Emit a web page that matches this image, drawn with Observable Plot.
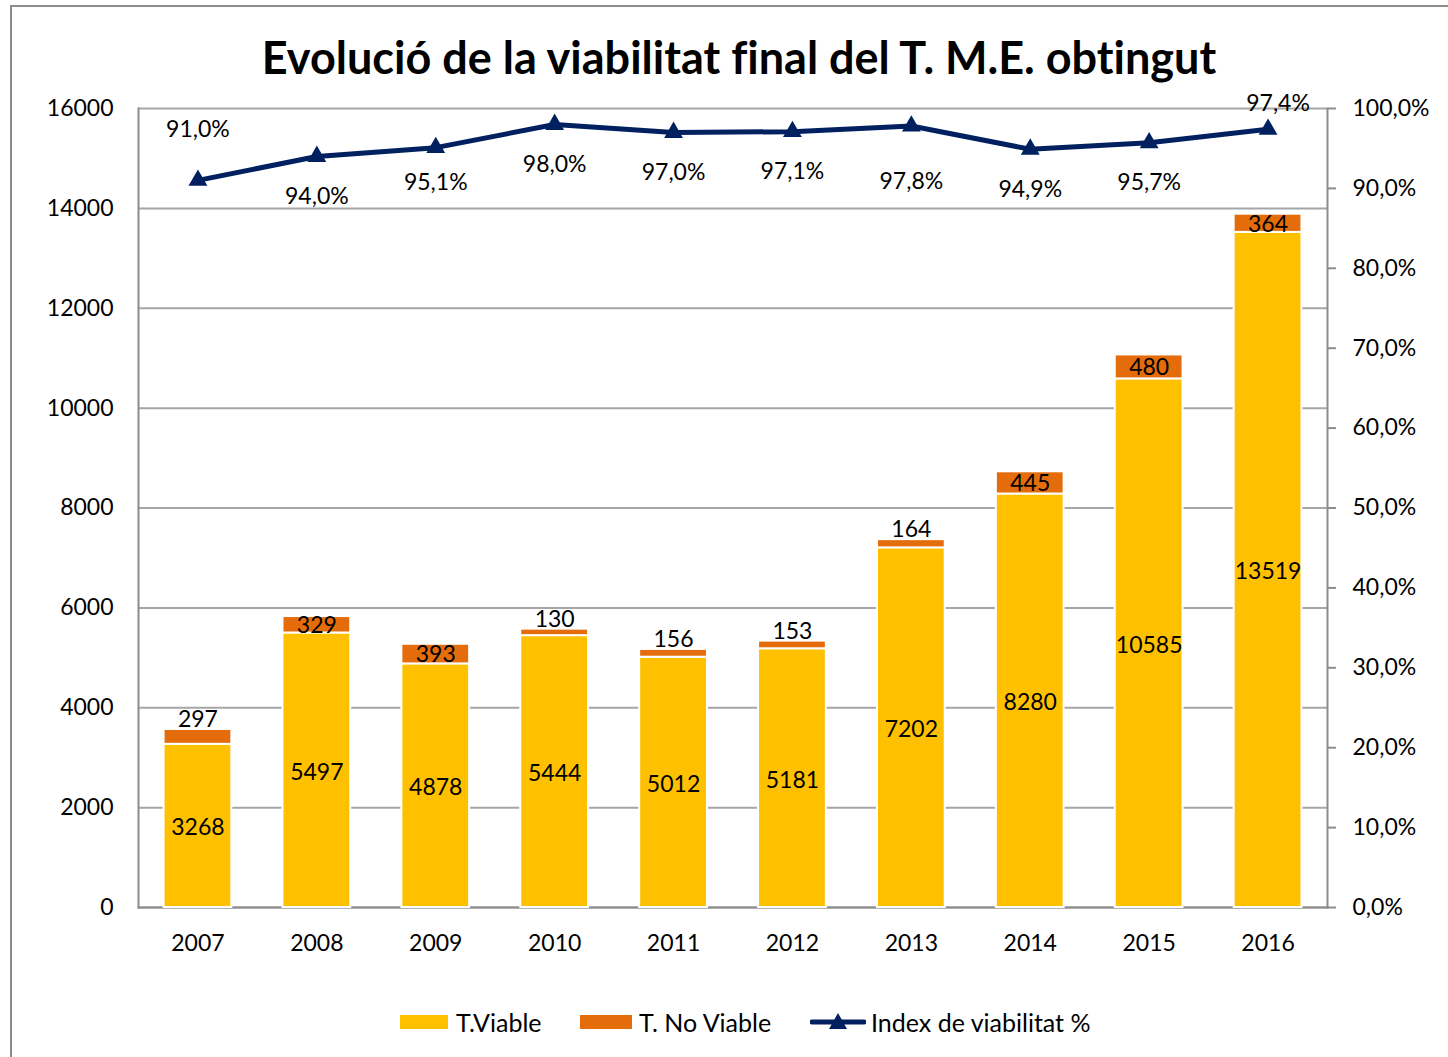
<!DOCTYPE html>
<html><head><meta charset="utf-8">
<script src="https://cdn.jsdelivr.net/npm/d3@7"></script>
<script src="https://cdn.jsdelivr.net/npm/@observablehq/plot@0.6"></script>
<style>
body{margin:0;background:#fff;font-family:Lato,sans-serif;overflow:hidden;width:1448px;height:1057px;position:relative;font-variant-ligatures:none;}
#frame{position:absolute;left:10px;top:5px;width:1500px;height:1100px;border-left:2px solid #8c8c8c;border-top:2px solid #8c8c8c;}
#title{position:absolute;left:0;width:1478px;top:27px;text-align:center;font-weight:bold;font-size:45px;line-height:60px;color:#000;letter-spacing:0px;}
#chart{position:absolute;left:0;top:0;}
.lg{position:absolute;font-size:25px;line-height:30px;color:#000;white-space:nowrap;}
.sw{position:absolute;height:14px;}
</style>
</head><body>
<div id="frame"></div>
<div id="chart"></div>
<div id="title">Evolució de la viabilitat final del T. M.E. obtingut</div>
<div id="legend"></div>
<script>
const years = ["2007","2008","2009","2010","2011","2012","2013","2014","2015","2016"];
const viable = [3268,5497,4878,5444,5012,5181,7202,8280,10585,13519];
const noViable = [297,329,393,130,156,153,164,445,480,364];
const indexPct = [91.0,94.0,95.1,98.0,97.0,97.1,97.8,94.9,95.7,97.4];
const yTicks = [0,2000,4000,6000,8000,10000,12000,14000,16000];
const pctTicks = [0,10,20,30,40,50,60,70,80,90,100];
const seriesNames = ["T.Viable","T. No Viable","Index de viabilitat %"];
const colors = ["#FFC000","#E46C0A","#002060"];

const rows = years.flatMap((y,i)=>[
  {year:y,type:seriesNames[0],value:viable[i]},
  {year:y,type:seriesNames[1],value:noViable[i]}
]);
const vRows = years.map((y,i)=>({year:y,v:viable[i],n:noViable[i]}));
const idx = years.map((y,i)=>({year:y,pct:indexPct[i],i}));
const k = 16000/100; // right axis (0-100%) onto left scale
const fmt = p => p.toFixed(1).replace(".",",")+"%";
const FS = 23;
const last = years.length-1;

const chart = Plot.plot({
  width:1448, height:980,
  marginLeft:138, marginRight:121, marginTop:108, marginBottom:73,
  style:{fontFamily:"Lato, sans-serif", fontSize:FS+"px", color:"#000", background:"transparent"},
  x:{domain:years, paddingInner:0.43, paddingOuter:0.215, round:false, label:null},
  y:{domain:[0,16000], label:null},
  color:{domain:seriesNames.slice(0,2), range:colors.slice(0,2)},
  marks:[
    Plot.gridY(yTicks,{stroke:"#a6a6a6", strokeOpacity:1, strokeWidth:2}),
    Plot.frame({anchor:"left", stroke:"#8c8c8c", strokeWidth:2}),
    Plot.frame({anchor:"right", stroke:"#8c8c8c", strokeWidth:2}),
    Plot.frame({anchor:"bottom", stroke:"#8c8c8c", strokeWidth:2}),
    Plot.barY(rows,{x:"year", y:"value", fill:"type", stroke:"white", strokeWidth:2}),
    Plot.text(vRows,{x:"year", y:d=>d.v/2, dy:2, text:d=>String(d.v), fontSize:FS, fill:"#000"}),
    Plot.text(vRows.filter(d=>d.n>=300),{x:"year", y:d=>d.v+d.n/2, dy:1, text:d=>String(d.n), fontSize:FS, fill:"#000"}),
    Plot.text(vRows.filter(d=>d.n<300),{x:"year", y:d=>d.v+d.n, dy:-10, text:d=>String(d.n), fontSize:FS, fill:"#000"}),
    Plot.line(idx,{x:"year", y:d=>d.pct*k, stroke:colors[2], strokeWidth:5}),
    Plot.dot(idx,{x:"year", y:d=>d.pct*k, symbol:"triangle", r:7, fill:colors[2], stroke:null}),
    Plot.text(idx.filter(d=>d.i>0 && d.i<last && d.i!==6 && d.i!==2),{x:"year", y:d=>d.pct*k, dy:40, text:d=>fmt(d.pct), fontSize:FS, fill:"#000"}),
    Plot.text(idx.filter(d=>d.i===2),{x:"year", y:d=>d.pct*k, dy:35, text:d=>fmt(d.pct), fontSize:FS, fill:"#000"}),
    Plot.text(idx.filter(d=>d.i===6),{x:"year", y:d=>d.pct*k, dy:56, text:d=>fmt(d.pct), fontSize:FS, fill:"#000"}),
    Plot.text(idx.filter(d=>d.i===0),{x:"year", y:d=>d.pct*k, dy:-51, text:d=>fmt(d.pct), fontSize:FS, fill:"#000"}),
    Plot.text(idx.filter(d=>d.i===last),{x:"year", y:d=>d.pct*k, dx:10, dy:-26, text:d=>fmt(d.pct), fontSize:FS, fill:"#000"}),
    Plot.axisX({tickSize:0, tickPadding:27, fontSize:FS, label:null}),
    Plot.axisY(yTicks,{anchor:"left", tickSize:0, tickPadding:25, fontSize:FS, label:null, tickFormat:d=>String(d)}),
    Plot.axisY(pctTicks.map(p=>p*k),{anchor:"right", tickSize:8, tickPadding:17, stroke:"#8c8c8c", strokeWidth:2, fontSize:FS, label:null, tickFormat:d=>fmt(d/k)})
  ]
});
document.getElementById("chart").appendChild(chart);

// legend
const lg = document.getElementById("legend");
const items = [
  {sw:[400,48], tx:456, name:seriesNames[0], c:colors[0], kind:"rect"},
  {sw:[580,52], tx:639, name:seriesNames[1], c:colors[1], kind:"rect"},
  {sw:[810,56], tx:871, name:seriesNames[2], c:colors[2], kind:"line"}
];
items.forEach(it=>{
  if(it.kind==="rect"){
    const s=document.createElement("div"); s.className="sw";
    s.style.left=it.sw[0]+"px"; s.style.width=it.sw[1]+"px"; s.style.top="1015px"; s.style.background=it.c;
    lg.appendChild(s);
  } else {
    const ns="http://www.w3.org/2000/svg";
    const svg=document.createElementNS(ns,"svg");
    svg.setAttribute("width",it.sw[1]); svg.setAttribute("height",24);
    svg.style.position="absolute"; svg.style.left=it.sw[0]+"px"; svg.style.top="1010px";
    const l=document.createElementNS(ns,"line");
    l.setAttribute("x1",2);l.setAttribute("x2",it.sw[1]-2);l.setAttribute("y1",12);l.setAttribute("y2",12);
    l.setAttribute("stroke",it.c);l.setAttribute("stroke-width",5);l.setAttribute("stroke-linecap","round");
    svg.appendChild(l);
    const p=document.createElementNS(ns,"path");
    const cx=it.sw[1]/2;
    p.setAttribute("d",`M${cx},3L${cx+9},19L${cx-9},19Z`);p.setAttribute("fill",it.c);
    svg.appendChild(p);
    lg.appendChild(svg);
  }
  const t=document.createElement("div"); t.className="lg";
  t.style.left=it.tx+"px"; t.style.top="1007px"; t.textContent=it.name;
  lg.appendChild(t);
});
</script>
</body></html>
